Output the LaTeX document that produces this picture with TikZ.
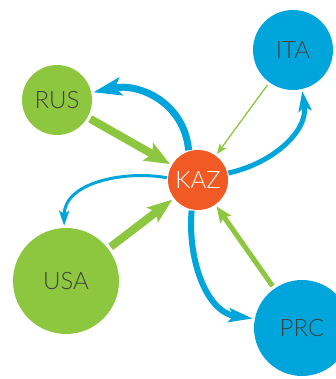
\documentclass[tikz,border=0pt]{standalone}
\usepackage{fontspec}
\setmainfont{Lato}[UprightFont={* Light}]
\usepackage{tikz}
\usetikzlibrary{arrows.meta}
\usepackage{xcolor}
\definecolor{kgreen}{HTML}{8DC63F}
\definecolor{kblue}{HTML}{00A6DB}
\definecolor{korange}{HTML}{F15A24}
\definecolor{kgray}{HTML}{404040}

\begin{document}
\begin{tikzpicture}[x=1pt,y=1pt,font=\fontsize{24}{24}\selectfont,
  country/.style={circle,inner sep=0pt,text=kgray},
  garrow/.style={draw=kgreen,shorten <=3pt,shorten >=2pt},
  barrow/.style={draw=kblue,shorten <=1pt,shorten >=2pt}]
\useasboundingbox (0,0) rectangle (336,379);
\node[country,fill=kgreen,minimum size=70pt] (rus) at (57,279) {RUS};
\node[country,fill=kblue,minimum size=80pt] (ita) at (293,329) {ITA};
\node[country,fill=korange,minimum size=60pt,text=white] (kaz) at (198,199) {KAZ};
\node[country,fill=kgreen,minimum size=106pt] (usa) at (66,98) {USA};
\node[country,fill=kblue,minimum size=96pt] (prc) at (302,51) {PRC};
% green: into KAZ
\draw[garrow,line width=8pt,-{Stealth[length=25pt,width=20pt,inset=5pt]}] (rus) -- (kaz);
\draw[garrow,line width=8pt,-{Stealth[length=25pt,width=18pt,inset=5pt]}] (usa) -- (kaz);
\draw[garrow,line width=5pt,-{Stealth[length=16pt,width=13pt,inset=3pt]}] (prc) -- (kaz);
\draw[garrow,line width=1.3pt,-{Stealth[length=10pt,width=8pt,inset=2pt]}] (ita) -- (kaz);
% blue: out of KAZ
\draw[barrow,line width=7pt,-{Stealth[length=28pt,width=18pt,inset=6pt]}]
  (kaz.108) to[out=95,in=12,looseness=1.1] (rus.12);
\draw[barrow,line width=5pt,-{Stealth[length=20pt,width=13pt,inset=4pt]}]
  (kaz.13) to[out=12,in=-82,looseness=1] (ita.283);
\draw[barrow,line width=3pt,-{Stealth[length=15pt,width=10pt,inset=3pt]}]
  (kaz.176) to[out=170,in=90,looseness=1] (usa.92);
\draw[barrow,line width=6pt,-{Stealth[length=24pt,width=14pt,inset=5pt]}]
  (kaz.258) to[out=265,in=172,looseness=1] (prc.169);
\end{tikzpicture}
\end{document}
